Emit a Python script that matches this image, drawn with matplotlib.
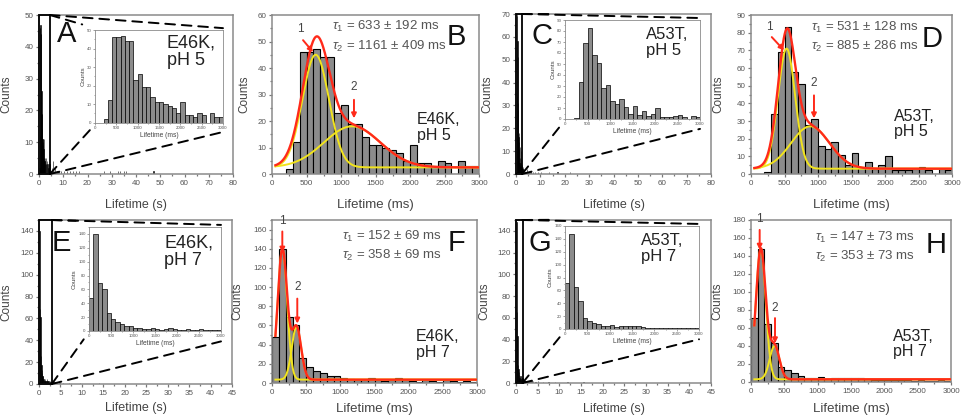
import numpy as np
import matplotlib
matplotlib.use("Agg")
import matplotlib.pyplot as plt
from matplotlib.patches import ConnectionPatch, Rectangle
from matplotlib.ticker import MultipleLocator, AutoMinorLocator

plt.rcParams['font.family'] = ['Liberation Sans', 'DejaVu Sans']
plt.rcParams['mathtext.fontset'] = 'custom'
plt.rcParams['mathtext.rm'] = 'Liberation Sans'
plt.rcParams['mathtext.it'] = 'Liberation Sans:italic'

# 100 ms bins, 0 - 3000 ms
bin_ms = np.arange(0, 3000, 100)

e46k_ph5 = [0, 0, 2, 12, 46, 46, 47, 44, 44, 23, 26, 19, 19, 14, 11, 11, 10, 9, 8, 5,
            11, 4, 4, 3, 5, 4, 0, 5, 3, 3]
a53t_ph5 = [0, 0, 1, 34, 69, 83, 58, 51, 28, 31, 16, 14, 18, 11, 5, 12, 4, 7, 3, 5,
            10, 2, 2, 2, 3, 4, 2, 0, 3, 2]
e46k_ph7 = [48, 140, 69, 61, 26, 17, 13, 10, 7, 7, 5, 4, 3, 3, 5, 3, 2, 3, 5, 3,
            2, 1, 3, 2, 1, 3, 2, 1, 2, 1]
a53t_ph7 = [71, 148, 65, 43, 17, 13, 10, 7, 5, 4, 6, 3, 4, 5, 5, 4, 4, 3, 2, 2,
            2, 2, 2, 2, 1, 2, 1, 1, 2, 1]

# long-lifetime events beyond 3 s (seconds, counts)
tail_e46k_ph5_s = [3.2, 3.5, 3.9, 4.3, 4.8, 5.2, 5.7, 6.1, 6.6, 7.0, 7.6, 8.3, 9.1, 10.2,
                   11.4, 12.6, 13.9, 15.3, 16.6, 26.9, 29.2, 32.4, 33.3, 35.1, 35.8, 47.2]
tail_e46k_ph5_n = [4, 3, 2, 3, 1, 2, 4, 1, 2, 1, 1, 1, 1, 1, 1, 1, 1, 1, 1, 1, 1, 1, 1, 1, 1, 1]
tail_a53t_ph5_s = [3.3, 3.8, 4.4, 5.1, 5.9, 6.8, 7.7, 8.9, 10.3, 13.5, 17.0, 22.0]
tail_a53t_ph5_n = [2, 1, 2, 1, 1, 1, 1, 1, 1, 1, 1, 1]
tail_e46k_ph7_s = [3.2, 3.6, 4.1, 4.7, 5.5, 7.0, 9.5, 14.0]
tail_e46k_ph7_n = [2, 2, 1, 1, 1, 1, 1, 1]
tail_a53t_ph7_s = [3.1, 3.5, 3.9, 4.4, 5.0, 6.2, 7.4, 9.0, 11.8, 15.5]
tail_a53t_ph7_n = [2, 2, 2, 1, 2, 1, 1, 1, 1, 1]

# two-gaussian fits: baseline, centres (tau), widths, amplitudes
fit_e46k_ph5 = dict(y0=2.5, tau=[633, 1161], sd=[192, 409], amp=[42.5, 15.5])
fit_a53t_ph5 = dict(y0=3.0, tau=[531, 885], sd=[128, 286], amp=[68, 24])
fit_e46k_ph7 = dict(y0=3.5, tau=[152, 358], sd=[69, 69], amp=[136, 55])
fit_a53t_ph7 = dict(y0=3.0, tau=[147, 353], sd=[73, 73], amp=[145, 37])

# peak markers: (label pos, arrow tail, arrow tip)
arrows_b = [((415, 52.5), (450, 50.5), (595, 46)), ((1188, 30.5), (1188, 28), (1188, 21))]
arrows_d = [((270, 80), (310, 77.5), (493, 70)), ((940, 48), (940, 44.5), (940, 31.5))]
arrows_f = [((151, 163), (151, 158), (151, 136)), ((370, 94), (370, 88), (370, 62))]
arrows_h = [((130, 174), (130, 169), (130, 147)), ((360, 76), (360, 71), (360, 43))]

RED = '#ff2a1a'
YEL = '#f2e41c'
BARC = '#8c8c8c'
TXT = '#444444'

W, H = 963, 416
fig = plt.figure(figsize=(W / 100, H / 100), dpi=100)


def add_px(l, t, r, b):
    return fig.add_axes([l / W, 1 - b / H, (r - l) / W, (b - t) / H])


def style(ax, fs, tlen, lw):
    for s in ax.spines.values():
        s.set_color('#8a8a8a')
        s.set_linewidth(lw)
    ax.tick_params(which='both', direction='out', colors='#777777', labelcolor='#555555',
                   labelsize=fs, width=lw * 0.8, pad=1.5)
    ax.tick_params(which='major', length=tlen)
    ax.tick_params(which='minor', length=tlen * 0.55)
    ax.xaxis.set_minor_locator(AutoMinorLocator(2))
    ax.yaxis.set_minor_locator(AutoMinorLocator(2))


def overview(box, ibox, counts, tail_s, tail_n, xmax, xstep, ymax, ystep, zoom_x,
             letter, let_xy, label, lab_xy, lab_fs, iymax, iystep, ylab_x, xlab_y):
    ax = add_px(*box)
    xs = np.concatenate([bin_ms / 1000.0, tail_s])
    ns = np.concatenate([counts, tail_n])
    ax.bar(xs, ns, width=0.1, align='edge', color='black', edgecolor='black', lw=0.4)
    ax.set_xlim(0, xmax)
    ax.set_ylim(0, ymax)
    ax.xaxis.set_major_locator(MultipleLocator(xstep))
    ax.yaxis.set_major_locator(MultipleLocator(ystep))
    style(ax, 5.8, 2.5, 1.1)
    ax.set_xlabel('Lifetime (s)', fontsize=9, color=TXT)
    ax.set_ylabel('Counts', fontsize=8.5, color=TXT)
    ax.yaxis.set_label_coords(ylab_x, 0.5)
    ax.xaxis.set_label_coords(0.5, xlab_y)
    ax.add_patch(Rectangle((0, 0), zoom_x, ymax, fill=False, ec='black', lw=1.3,
                           clip_on=False, zorder=4))
    ax.text(let_xy[0], let_xy[1], letter, transform=ax.transAxes, fontsize=21,
            ha='left', va='top', color='#111111')

    ins = add_px(*ibox)
    ins.bar(bin_ms, counts, width=100, align='edge', color=BARC, edgecolor='black', lw=0.5)
    ins.set_xlim(0, 3000)
    ins.set_ylim(0, iymax)
    ins.xaxis.set_major_locator(MultipleLocator(500))
    ins.yaxis.set_major_locator(MultipleLocator(iystep))
    style(ins, 3.2, 1.5, 0.6)
    ins.tick_params(pad=1)
    ins.set_xlabel('Lifetime (ms)', fontsize=4.8, color=TXT, labelpad=1)
    ins.set_ylabel('Counts', fontsize=4.5, color=TXT, labelpad=1)
    ins.text(lab_xy[0], lab_xy[1], label, transform=ins.transAxes, fontsize=lab_fs,
             ha='left', va='top', color='#222222', linespacing=1.05)

    # dashed guides from the zoom box to the inset
    for xa, xb in [((zoom_x, ymax), (-0.1, 1.06)), ((zoom_x, ymax), (1.0, 1.02)),
                   ((zoom_x, 0), (-0.04, -0.08)), ((zoom_x, 0), (1.0, -0.1))]:
        cp = ConnectionPatch(xyA=xa, coordsA=ax.transData, xyB=xb, coordsB=ins.transAxes,
                             ls=(0, (5, 3.5)), lw=1.4, color='black', zorder=5)
        fig.add_artist(cp)
    return ax, ins


def fit_panel(box, counts, ymax, ystep, fit, arrows, letter, let_xy, label, lab_xy,
              tau_xy, ylab_x, xlab_y):
    ax = add_px(*box)
    ax.bar(bin_ms, counts, width=100, align='edge', color=BARC, edgecolor='black', lw=0.8)
    xf = np.linspace(50, 3000, 800)
    y0 = fit['y0']
    g1 = y0 + fit['amp'][0] * np.exp(-(xf - fit['tau'][0]) ** 2 / (2 * fit['sd'][0] ** 2))
    g2 = y0 + fit['amp'][1] * np.exp(-(xf - fit['tau'][1]) ** 2 / (2 * fit['sd'][1] ** 2))
    ax.plot(xf, g1, color=YEL, lw=1.4, zorder=3)
    ax.plot(xf, g2, color=YEL, lw=1.4, zorder=3)
    ax.plot(xf, g1 + g2 - y0, color=RED, lw=1.7, zorder=4)
    ax.set_xlim(0, 3000)
    ax.set_ylim(0, ymax)
    ax.xaxis.set_major_locator(MultipleLocator(500))
    ax.yaxis.set_major_locator(MultipleLocator(ystep))
    style(ax, 5.8, 2.5, 1.1)
    ax.set_xlabel('Lifetime (ms)', fontsize=9.5, color=TXT)
    ax.set_ylabel('Counts', fontsize=8.5, color=TXT)
    ax.yaxis.set_label_coords(ylab_x, 0.5)
    ax.xaxis.set_label_coords(0.5, xlab_y)

    for i, (lp, tail, tip) in enumerate(arrows):
        ax.annotate('', xy=tip, xytext=tail,
                    arrowprops=dict(arrowstyle='-|>', color=RED, lw=1.4, mutation_scale=7,
                                    shrinkA=0, shrinkB=0), zorder=6)
        ax.text(lp[0], lp[1], str(i + 1), fontsize=8.5, color=TXT, ha='center', va='bottom',
                zorder=6)

    for k, dy in enumerate([0, -0.12]):
        ax.text(tau_xy[0], tau_xy[1] + dy,
                r'$\tau_%d$ = %d $\pm$ %d ms' % (k + 1, fit['tau'][k], fit['sd'][k]),
                transform=ax.transAxes, fontsize=9.5, color='#555555', ha='left', va='center')
    ax.text(let_xy[0], let_xy[1], letter, transform=ax.transAxes, fontsize=21,
            ha='left', va='top', color='#111111')
    ax.text(lab_xy[0], lab_xy[1], label, transform=ax.transAxes, fontsize=11.5,
            ha='left', va='top', color='#222222', linespacing=1.05)
    return ax


# top row: pH 5
overview((39, 15, 233, 174), (95, 30, 223, 122.7), e46k_ph5, tail_e46k_ph5_s, tail_e46k_ph5_n,
         80, 10, 50, 10, 4.5, 'A', (0.09, 0.97), 'E46K,\npH 5', (0.56, 0.95), 13,
         50, 10, -0.135, -0.155)
fit_panel((272, 15, 479, 174), e46k_ph5, 60, 10, fit_e46k_ph5, arrows_b, 'B', (0.845, 0.95),
          'E46K,\npH 5', (0.70, 0.39), (0.29, 0.925), -0.106, -0.16)
overview((516, 14, 711, 174), (565, 20, 700, 119), a53t_ph5, tail_a53t_ph5_s, tail_a53t_ph5_n,
         80, 10, 70, 10, 2.5, 'C', (0.08, 0.95), 'A53T,\npH 5', (0.6, 0.93), 12,
         90, 10, -0.118, -0.155)
fit_panel((751, 15, 952, 174), a53t_ph5, 90, 10, fit_a53t_ph5, arrows_d, 'D', (0.85, 0.935),
          'A53T,\npH 5', (0.71, 0.41), (0.30, 0.92), -0.13, -0.16)

# bottom row: pH 7
overview((39, 220, 232, 384), (89, 227, 221, 331), e46k_ph7, tail_e46k_ph7_s, tail_e46k_ph7_n,
         45, 5, 150, 20, 3.0, 'E', (0.065, 0.945), 'E46K,\npH 7', (0.57, 0.93), 13,
         150, 20, -0.14, -0.11)
fit_panel((272, 220, 477, 383), e46k_ph7, 170, 20, fit_e46k_ph7, arrows_f, 'F', (0.855, 0.945),
          'E46K,\npH 7', (0.70, 0.33), (0.34, 0.90), -0.14, -0.125)
overview((516, 220, 711, 383), (565, 226, 699, 329), a53t_ph7, tail_a53t_ph7_s, tail_a53t_ph7_n,
         45, 5, 150, 20, 1.5, 'G', (0.065, 0.945), 'A53T,\npH 7', (0.57, 0.93), 12,
         160, 20, -0.133, -0.12)
fit_panel((751, 220, 951, 382), a53t_ph7, 180, 20, fit_a53t_ph7, arrows_h, 'H', (0.875, 0.93),
          'A53T,\npH 7', (0.71, 0.33), (0.32, 0.895), -0.14, -0.13)

fig.savefig('out.png', dpi=100, facecolor='white')
